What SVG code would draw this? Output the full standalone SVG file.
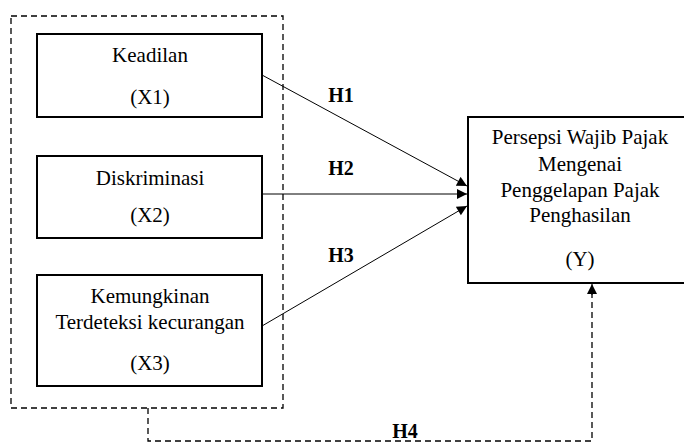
<svg xmlns="http://www.w3.org/2000/svg" width="684" height="445" viewBox="0 0 684 445">
<style>
.box{fill:#fff;stroke:#000;stroke-width:2}
.t{font-family:"Liberation Serif",serif;font-size:21px;fill:#000;text-anchor:middle}
.h{font-family:"Liberation Serif",serif;font-size:20px;font-weight:bold;fill:#000;text-anchor:middle}
.ln{stroke:#000;stroke-width:1;fill:none}
.dash{stroke:#000;stroke-width:1.3;fill:none;stroke-dasharray:6 4}
</style>
<defs>
<marker id="ah" viewBox="0 0 10 10" refX="10" refY="5" markerWidth="12" markerHeight="10" markerUnits="userSpaceOnUse" orient="auto">
<path d="M0,0 L10,5 L0,10 Z" fill="#000"/>
</marker>
</defs>
<rect id="group" class="dash" x="11" y="16" width="272" height="392"/>
<g id="x1">
<rect class="box" x="37" y="34" width="225" height="83"/>
<text class="t" x="150" y="62">Keadilan</text>
<text class="t" x="150" y="104">(X1)</text>
</g>
<g id="x2">
<rect class="box" x="37" y="156" width="225" height="82"/>
<text class="t" x="150" y="185">Diskriminasi</text>
<text class="t" x="150" y="222">(X2)</text>
</g>
<g id="x3">
<rect class="box" x="37" y="275" width="225" height="111"/>
<text class="t" x="150" y="303">Kemungkinan</text>
<text class="t" x="150" y="329">Terdeteksi kecurangan</text>
<text class="t" x="150" y="370">(X3)</text>
</g>
<g id="y">
<rect class="box" x="468" y="117" width="222" height="166"/>
<text class="t" x="580" y="144">Persepsi Wajib Pajak</text>
<text class="t" x="580" y="171">Mengenai</text>
<text class="t" x="580" y="197">Penggelapan Pajak</text>
<text class="t" x="580" y="222">Penghasilan</text>
<text class="t" x="580" y="266">(Y)</text>
</g>
<g id="connectors">
<line class="ln" x1="262" y1="75" x2="467" y2="186" marker-end="url(#ah)"/>
<line class="ln" x1="262" y1="194" x2="467" y2="194" marker-end="url(#ah)"/>
<line class="ln" x1="262" y1="326" x2="467" y2="206" marker-end="url(#ah)"/>
<polyline class="dash" points="148,408 148,441 592,441 592,294"/>
<line class="ln" x1="592" y1="295" x2="592" y2="284" marker-end="url(#ah)"/>
<text class="h" x="341" y="102">H1</text>
<text class="h" x="341" y="175">H2</text>
<text class="h" x="341" y="262">H3</text>
<text class="h" x="405" y="438">H4</text>
</g>
</svg>
